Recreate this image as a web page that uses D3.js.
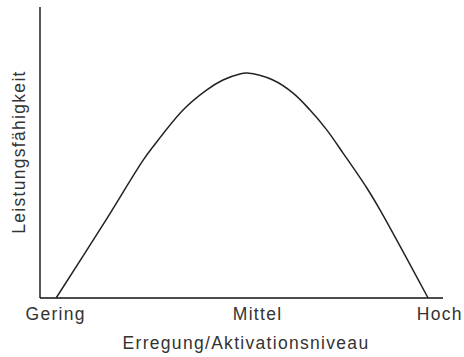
<html>
<head>
<meta charset="utf-8">
<script src="https://d3js.org/d3.v7.min.js"></script>
<style>
  body { margin: 0; background: #fff; }
  text { font-family: "Liberation Sans", Arial, sans-serif; fill: #333; letter-spacing: 1.3px; }
</style>
</head>
<body>
<div id="chart-container"></div>
<script>
// curve (arbitrary units 0..10)
const arousal     = [0.40, 1.56, 2.56, 2.80, 3.55, 4.14, 4.54, 4.96, 5.14, 5.78, 6.28, 6.70, 7.12, 7.52, 8.11, 8.44, 9.63];
const performance = [0.00, 2.51, 4.74, 5.19, 6.46, 7.15, 7.49, 7.70, 7.73, 7.49, 7.04, 6.46, 5.77, 4.98, 3.78, 3.02, 0.00];

const tickLabels = ["Gering", "Mittel", "Hoch"];
const tickValues = [0.39, 5.40, 9.92];

const xTitle = "Erregung/Aktivationsniveau";
const yTitle = "Leistungsfähigkeit";

const width = 464, height = 357;
const x = d3.scaleLinear().domain([0, 10]).range([40, 443]);
const y = d3.scaleLinear().domain([0, 10]).range([298, 7]);

const svg = d3.select("#chart-container")
  .append("svg")
  .attr("width", width)
  .attr("height", height);

// axes (plain lines, no ticks)
svg.append("line")
  .attr("x1", x(0)).attr("x2", x(0))
  .attr("y1", y(0)).attr("y2", y(10))
  .attr("stroke", "#111").attr("stroke-width", 1.4);

svg.append("line")
  .attr("x1", x(0)).attr("x2", x(10))
  .attr("y1", y(0)).attr("y2", y(0))
  .attr("stroke", "#111").attr("stroke-width", 1.4);

// curve
const pts = arousal.map((a, i) => [a, performance[i]]);
const line = d3.line()
  .x(d => x(d[0]))
  .y(d => y(d[1]))
  .curve(d3.curveCatmullRom.alpha(0.5));

svg.append("path")
  .datum(pts)
  .attr("fill", "none")
  .attr("stroke", "#222")
  .attr("stroke-width", 1.5)
  .attr("d", line);

// category labels under x axis
svg.selectAll("text.tick")
  .data(tickLabels)
  .enter()
  .append("text")
  .attr("class", "tick")
  .attr("x", (d, i) => x(tickValues[i]))
  .attr("y", 320)
  .attr("text-anchor", "middle")
  .attr("font-size", 17.5)
  .text(d => d);

// axis titles
svg.append("text")
  .attr("x", 246)
  .attr("y", 349)
  .attr("text-anchor", "middle")
  .attr("font-size", 17.5)
  .text(xTitle);

svg.append("text")
  .attr("transform", "rotate(-90)")
  .attr("x", -152)
  .attr("y", 25)
  .attr("text-anchor", "middle")
  .attr("font-size", 17.5)
  .text(yTitle);
</script>
</body>
</html>
